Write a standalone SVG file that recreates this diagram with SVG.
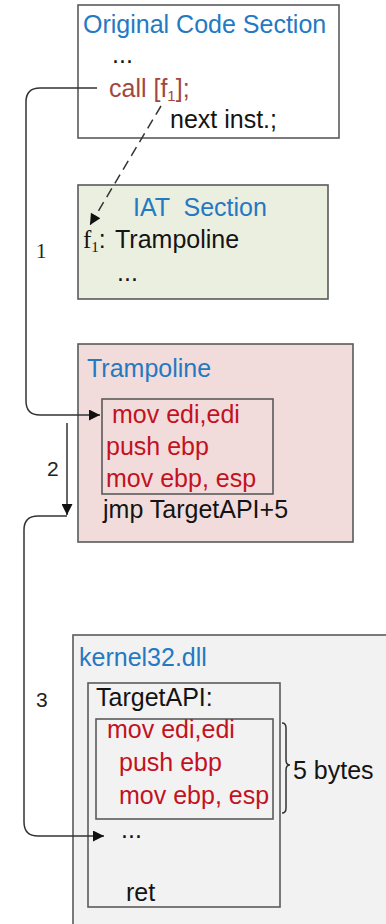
<svg xmlns="http://www.w3.org/2000/svg" width="386" height="924" viewBox="0 0 386 924">
  <style>
    .box { stroke: #5a5a5a; stroke-width: 1.6; }
    .t { font-family: "Liberation Sans", Arial, sans-serif; font-size: 25px; }
    .serif { font-family: "Liberation Serif", "Times New Roman", serif; }
    .title { fill: #2479c2; }
    .red { fill: #c3121f; }
    .brown { fill: #a2473d; }
    .blk { fill: #141414; }
    .conn { fill: none; stroke: #333; stroke-width: 1.5; }
    .num { font-size: 21px; fill: #222; }
  </style>
  <defs>
    <marker id="arr" viewBox="0 0 10 10" refX="10" refY="5" markerWidth="13" markerHeight="11" markerUnits="userSpaceOnUse" orient="auto">
      <path d="M0,0 L10,5 L0,10 z" fill="#111"/>
    </marker>
  </defs>

  <rect width="386" height="924" fill="#fff"/>

  <!-- kernel32.dll module (drawn first; runs off the page edge) -->
  <g id="kernel32">
    <rect class="box" x="73" y="635" width="330" height="300" fill="#f2f2f2"/>
    <text class="t title" x="79" y="666">kernel32.dll</text>
    <g id="target-api">
      <rect class="box" x="88" y="683" width="192" height="224" fill="none"/>
      <text class="t blk" x="96" y="706">TargetAPI:</text>
      <rect class="box" x="96" y="719" width="177" height="100" fill="none"/>
      <text class="t red" x="107" y="738">mov edi,edi</text>
      <text class="t red" x="119" y="771">push ebp</text>
      <text class="t red" x="119" y="804">mov ebp, esp</text>
      <text class="t blk" x="121" y="838">...</text>
      <text class="t blk" x="126" y="901">ret</text>
    </g>
    <g id="prologue-size">
      <path class="conn" d="M282,723 Q286,723 286,728 V760 Q286,765 290,765 Q286,765 286,770 V808 Q286,813 282,813"/>
      <text class="t blk" x="293" y="779">5 bytes</text>
    </g>
  </g>

  <!-- original code section -->
  <g id="original-code">
    <rect class="box" x="78" y="5" width="261" height="133" fill="#fff"/>
    <text class="t title" x="83" y="33">Original Code Section</text>
    <text class="t blk" x="112" y="63">...</text>
    <text class="t brown" x="109" y="97">call [f<tspan font-size="15" dy="4">1</tspan><tspan dy="-4">];</tspan></text>
    <text class="t blk" x="170" y="128">next inst.;</text>
  </g>

  <!-- import address table -->
  <g id="iat">
    <rect class="box" x="78" y="185" width="250" height="114" fill="#ebefe0"/>
    <text class="t title" x="133" y="216" xml:space="preserve">IAT  Section</text>
    <text class="t blk" x="83" y="248"><tspan class="serif">f</tspan><tspan class="serif" font-size="15" dy="4">1</tspan><tspan dy="-4">:</tspan><tspan x="115">Trampoline</tspan></text>
    <text class="t blk" x="117" y="281">...</text>
  </g>

  <!-- trampoline stub -->
  <g id="trampoline">
    <rect class="box" x="78" y="344" width="275" height="198" fill="#f2dcdb"/>
    <text class="t title" x="87" y="377">Trampoline</text>
    <rect class="box" x="102" y="399" width="171" height="95" fill="none"/>
    <text class="t red" x="112" y="423">mov edi,edi</text>
    <text class="t red" x="106" y="455">push ebp</text>
    <text class="t red" x="106" y="487">mov ebp, esp</text>
    <text class="t blk" x="103" y="518">jmp TargetAPI+5</text>
  </g>

  <!-- control flow -->
  <g id="connectors">
    <path class="conn" d="M97,88 H40 Q26,88 26,102 V401 Q26,415 40,415 H100" marker-end="url(#arr)"/>
    <path class="conn" d="M161,106 L90,225" stroke-dasharray="10 6" marker-end="url(#arr)"/>
    <path class="conn" d="M67,423 V515" marker-end="url(#arr)"/>
    <path class="conn" d="M67,516 H38 Q24,516 24,530 V822 Q24,836 38,836 H104" marker-end="url(#arr)"/>
    <text class="serif num" x="36" y="258">1</text>
    <text class="t num" x="47" y="476">2</text>
    <text class="t num" x="36" y="707">3</text>
  </g>
</svg>
